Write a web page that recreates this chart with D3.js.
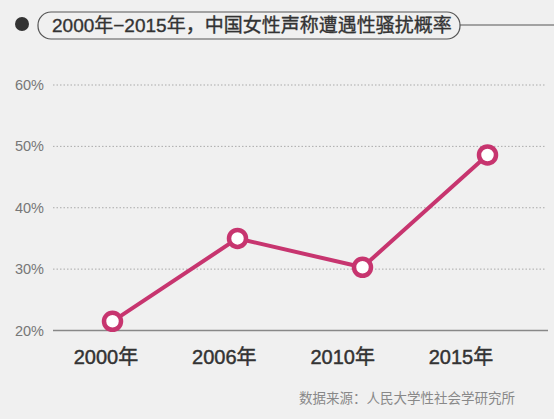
<!DOCTYPE html>
<html>
<head>
<meta charset="utf-8">
<script src="https://cdn.jsdelivr.net/npm/d3@7"></script>
<style>
  html, body { margin: 0; padding: 0; background: #f0f0f0; }
  svg { display: block; }
  text { font-family: "Liberation Sans", "Noto Sans CJK SC", sans-serif; }
</style>
</head>
<body>
<script>
// chart data
var years = ["2000年", "2006年", "2010年", "2015年"],
    rates = [21.5, 35, 30.3, 48.6],
    yTicks = [20, 30, 40, 50, 60],
    title = "2000年−2015年，中国女性声称遭遇性骚扰概率",
    source = "数据来源：人民大学性社会学研究所";

var W = 554, H = 419,
    pink = "#c7356f";

var svg = d3.select("body").append("svg")
    .attr("width", W)
    .attr("height", H);

svg.append("rect").attr("width", W).attr("height", H).attr("fill", "#f0f0f0");

// header
svg.append("circle").attr("cx", 22).attr("cy", 24).attr("r", 7).attr("fill", "#333");
svg.append("rect")
    .attr("x", 38).attr("y", 12)
    .attr("width", 422).attr("height", 27)
    .attr("rx", 13).attr("ry", 13)
    .attr("fill", "none").attr("stroke", "#555").attr("stroke-width", 1.2);
svg.append("line")
    .attr("x1", 460).attr("x2", W).attr("y1", 25).attr("y2", 25)
    .attr("stroke", "#555").attr("stroke-width", 1.2);
svg.append("text")
    .attr("x", 52).attr("y", 32)
    .attr("font-size", 19)
    .attr("fill", "#333")
    .attr("stroke", "#333").attr("stroke-width", 0.35)
    .text(title);

// scales
var y = d3.scaleLinear().domain([20, 60]).range([330.5, 85]);
var x = d3.scalePoint().domain(years).range([112.5, 487.5]);
var xl = d3.scalePoint().domain(years).range([106, 461]);

// grid
svg.append("g").selectAll("line")
    .data(yTicks.filter(function (d) { return d > 20; }))
    .join("line")
    .attr("x1", 53).attr("x2", 546)
    .attr("y1", function (d) { return y(d); })
    .attr("y2", function (d) { return y(d); })
    .attr("stroke", "#aaa")
    .attr("stroke-width", 1)
    .attr("stroke-dasharray", "1.5,2");

svg.append("line")
    .attr("x1", 53).attr("x2", 548)
    .attr("y1", y(20)).attr("y2", y(20))
    .attr("stroke", "#888").attr("stroke-width", 1.5);

// y labels
svg.append("g").selectAll("text")
    .data(yTicks)
    .join("text")
    .attr("x", 44)
    .attr("y", function (d) { return y(d) + 5; })
    .attr("text-anchor", "end")
    .attr("font-size", 14.5)
    .attr("fill", "#777")
    .text(function (d) { return d + "%"; });

// x labels
svg.append("g").selectAll("text")
    .data(years)
    .join("text")
    .attr("x", function (d) { return xl(d); })
    .attr("y", 364)
    .attr("text-anchor", "middle")
    .attr("font-size", 20)
    .attr("fill", "#333")
    .attr("stroke", "#333").attr("stroke-width", 0.45)
    .text(function (d) { return d; });

// line + markers
var line = d3.line()
    .x(function (d, i) { return x(years[i]); })
    .y(function (d) { return y(d); });

svg.append("path")
    .datum(rates)
    .attr("d", line)
    .attr("fill", "none")
    .attr("stroke", pink)
    .attr("stroke-width", 4);

svg.append("g").selectAll("circle")
    .data(rates)
    .join("circle")
    .attr("cx", function (d, i) { return x(years[i]); })
    .attr("cy", function (d) { return y(d); })
    .attr("r", 8.5)
    .attr("fill", "#fff")
    .attr("stroke", pink)
    .attr("stroke-width", 4.5);

// source
svg.append("text")
    .attr("x", 515).attr("y", 403)
    .attr("text-anchor", "end")
    .attr("font-size", 13.5)
    .attr("fill", "#888")
    .text(source);
</script>
</body>
</html>
